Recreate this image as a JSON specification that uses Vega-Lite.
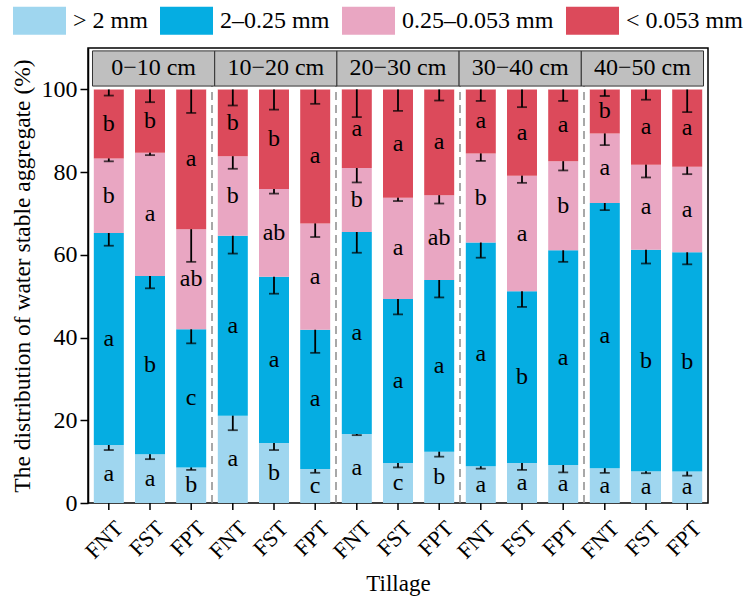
{
"$schema": "https://vega.github.io/schema/vega-lite/v6.json",
"autosize": {"type": "none"},
"padding": {"left": 88, "top": 48, "right": 38, "bottom": 105},
"width": 620,
"height": 455,
"data": {"values": [
{"depth":"0−10 cm","tillage":"FNT","size":"> 2 mm","value":14.0,"sd":1.2,"letter":"a"},
{"depth":"0−10 cm","tillage":"FNT","size":"2–0.25 mm","value":51.3,"sd":3.1,"letter":"a"},
{"depth":"0−10 cm","tillage":"FNT","size":"0.25–0.053 mm","value":18.0,"sd":0.7,"letter":"b"},
{"depth":"0−10 cm","tillage":"FNT","size":"< 0.053 mm","value":16.7,"sd":1.5,"letter":"b"},
{"depth":"0−10 cm","tillage":"FST","size":"> 2 mm","value":11.8,"sd":1.2,"letter":"a"},
{"depth":"0−10 cm","tillage":"FST","size":"2–0.25 mm","value":43.1,"sd":3.0,"letter":"b"},
{"depth":"0−10 cm","tillage":"FST","size":"0.25–0.053 mm","value":29.8,"sd":0.6,"letter":"a"},
{"depth":"0−10 cm","tillage":"FST","size":"< 0.053 mm","value":15.3,"sd":3.1,"letter":"b"},
{"depth":"0−10 cm","tillage":"FPT","size":"> 2 mm","value":8.6,"sd":0.6,"letter":"b"},
{"depth":"0−10 cm","tillage":"FPT","size":"2–0.25 mm","value":33.4,"sd":3.4,"letter":"c"},
{"depth":"0−10 cm","tillage":"FPT","size":"0.25–0.053 mm","value":24.2,"sd":7.9,"letter":"ab"},
{"depth":"0−10 cm","tillage":"FPT","size":"< 0.053 mm","value":33.8,"sd":5.7,"letter":"a"},
{"depth":"10−20 cm","tillage":"FNT","size":"> 2 mm","value":21.1,"sd":3.5,"letter":"a"},
{"depth":"10−20 cm","tillage":"FNT","size":"2–0.25 mm","value":43.5,"sd":4.3,"letter":"a"},
{"depth":"10−20 cm","tillage":"FNT","size":"0.25–0.053 mm","value":19.2,"sd":3.0,"letter":"b"},
{"depth":"10−20 cm","tillage":"FNT","size":"< 0.053 mm","value":16.2,"sd":3.9,"letter":"b"},
{"depth":"10−20 cm","tillage":"FST","size":"> 2 mm","value":14.5,"sd":1.7,"letter":"b"},
{"depth":"10−20 cm","tillage":"FST","size":"2–0.25 mm","value":40.2,"sd":4.1,"letter":"a"},
{"depth":"10−20 cm","tillage":"FST","size":"0.25–0.053 mm","value":21.2,"sd":1.1,"letter":"ab"},
{"depth":"10−20 cm","tillage":"FST","size":"< 0.053 mm","value":24.1,"sd":4.9,"letter":"b"},
{"depth":"10−20 cm","tillage":"FPT","size":"> 2 mm","value":8.2,"sd":0.9,"letter":"c"},
{"depth":"10−20 cm","tillage":"FPT","size":"2–0.25 mm","value":33.7,"sd":5.6,"letter":"a"},
{"depth":"10−20 cm","tillage":"FPT","size":"0.25–0.053 mm","value":25.7,"sd":3.3,"letter":"a"},
{"depth":"10−20 cm","tillage":"FPT","size":"< 0.053 mm","value":32.4,"sd":3.5,"letter":"a"},
{"depth":"20−30 cm","tillage":"FNT","size":"> 2 mm","value":16.7,"sd":0.3,"letter":"a"},
{"depth":"20−30 cm","tillage":"FNT","size":"2–0.25 mm","value":48.8,"sd":5.0,"letter":"a"},
{"depth":"20−30 cm","tillage":"FNT","size":"0.25–0.053 mm","value":15.5,"sd":3.5,"letter":"b"},
{"depth":"20−30 cm","tillage":"FNT","size":"< 0.053 mm","value":19.0,"sd":6.7,"letter":"a"},
{"depth":"20−30 cm","tillage":"FST","size":"> 2 mm","value":9.7,"sd":1.1,"letter":"c"},
{"depth":"20−30 cm","tillage":"FST","size":"2–0.25 mm","value":39.6,"sd":3.7,"letter":"a"},
{"depth":"20−30 cm","tillage":"FST","size":"0.25–0.053 mm","value":24.5,"sd":0.8,"letter":"a"},
{"depth":"20−30 cm","tillage":"FST","size":"< 0.053 mm","value":26.2,"sd":5.2,"letter":"a"},
{"depth":"20−30 cm","tillage":"FPT","size":"> 2 mm","value":12.4,"sd":1.2,"letter":"b"},
{"depth":"20−30 cm","tillage":"FPT","size":"2–0.25 mm","value":41.5,"sd":4.2,"letter":"a"},
{"depth":"20−30 cm","tillage":"FPT","size":"0.25–0.053 mm","value":20.5,"sd":2.0,"letter":"ab"},
{"depth":"20−30 cm","tillage":"FPT","size":"< 0.053 mm","value":25.6,"sd":2.7,"letter":"a"},
{"depth":"30−40 cm","tillage":"FNT","size":"> 2 mm","value":8.9,"sd":0.6,"letter":"a"},
{"depth":"30−40 cm","tillage":"FNT","size":"2–0.25 mm","value":54.1,"sd":3.7,"letter":"a"},
{"depth":"30−40 cm","tillage":"FNT","size":"0.25–0.053 mm","value":21.5,"sd":1.8,"letter":"b"},
{"depth":"30−40 cm","tillage":"FNT","size":"< 0.053 mm","value":15.5,"sd":2.8,"letter":"a"},
{"depth":"30−40 cm","tillage":"FST","size":"> 2 mm","value":9.7,"sd":1.7,"letter":"a"},
{"depth":"30−40 cm","tillage":"FST","size":"2–0.25 mm","value":41.5,"sd":3.8,"letter":"b"},
{"depth":"30−40 cm","tillage":"FST","size":"0.25–0.053 mm","value":27.9,"sd":1.7,"letter":"a"},
{"depth":"30−40 cm","tillage":"FST","size":"< 0.053 mm","value":20.9,"sd":4.3,"letter":"a"},
{"depth":"30−40 cm","tillage":"FPT","size":"> 2 mm","value":9.2,"sd":1.8,"letter":"a"},
{"depth":"30−40 cm","tillage":"FPT","size":"2–0.25 mm","value":51.9,"sd":2.8,"letter":"a"},
{"depth":"30−40 cm","tillage":"FPT","size":"0.25–0.053 mm","value":21.5,"sd":2.2,"letter":"b"},
{"depth":"30−40 cm","tillage":"FPT","size":"< 0.053 mm","value":17.4,"sd":2.8,"letter":"a"},
{"depth":"40−50 cm","tillage":"FNT","size":"> 2 mm","value":8.4,"sd":1.1,"letter":"a"},
{"depth":"40−50 cm","tillage":"FNT","size":"2–0.25 mm","value":64.1,"sd":1.7,"letter":"a"},
{"depth":"40−50 cm","tillage":"FNT","size":"0.25–0.053 mm","value":16.8,"sd":2.8,"letter":"a"},
{"depth":"40−50 cm","tillage":"FNT","size":"< 0.053 mm","value":10.7,"sd":1.6,"letter":"b"},
{"depth":"40−50 cm","tillage":"FST","size":"> 2 mm","value":7.7,"sd":0.5,"letter":"a"},
{"depth":"40−50 cm","tillage":"FST","size":"2–0.25 mm","value":53.5,"sd":3.3,"letter":"b"},
{"depth":"40−50 cm","tillage":"FST","size":"0.25–0.053 mm","value":20.6,"sd":3.1,"letter":"a"},
{"depth":"40−50 cm","tillage":"FST","size":"< 0.053 mm","value":18.2,"sd":2.5,"letter":"a"},
{"depth":"40−50 cm","tillage":"FPT","size":"> 2 mm","value":7.6,"sd":1.0,"letter":"a"},
{"depth":"40−50 cm","tillage":"FPT","size":"2–0.25 mm","value":53.0,"sd":2.9,"letter":"b"},
{"depth":"40−50 cm","tillage":"FPT","size":"0.25–0.053 mm","value":20.7,"sd":1.8,"letter":"a"},
{"depth":"40−50 cm","tillage":"FPT","size":"< 0.053 mm","value":18.7,"sd":5.5,"letter":"a"}
]},
"layer": [
{
"transform": [{"stack": "value", "groupby": ["depth", "tillage"], "as": ["v0", "v1"]}],
"layer": [
{
"transform": [{"filter": {"field": "size", "equal": "> 2 mm"}}],
"mark": {"type": "bar"},
"encoding": {
"x": {"field": "depth", "type": "nominal", "sort": ["0−10 cm","10−20 cm","20−30 cm","30−40 cm","40−50 cm"], "scale": {"type": "band", "paddingInner": 0, "paddingOuter": 0}, "axis": {"labels": false, "ticks": false, "domain": false, "grid": false, "title": "Tillage", "titleFontSize": 23, "titlePadding": 69, "titleFont": "Liberation Serif", "titleFontWeight": "normal", "titleColor": "black"}},
"xOffset": {"field": "tillage", "type": "nominal", "sort": ["FNT","FST","FPT"], "scale": {"type": "band", "paddingInner": 0.272, "paddingOuter": 0.141}},
"y": {"field": "v0", "type": "quantitative", "title": "The distribution of water stable aggregate (%)", "scale": {"domain": [0, 110], "nice": false, "zero": true}, "axis": {"values": [0,20,40,60,80,100], "title": "The distribution of water stable aggregate (%)", "grid": false, "tickSize": 8, "tickWidth": 1.5, "tickColor": "black", "domainColor": "black", "domainWidth": 1.5, "labelFontSize": 24, "labelPadding": 3, "labelFont": "Liberation Serif", "labelColor": "black", "titleFontSize": 23.5, "titlePadding": 7, "titleFont": "Liberation Serif", "titleFontWeight": "normal", "titleColor": "black"}},
"y2": {"field": "v1"},
"color": {"field": "size", "type": "nominal", "scale": {"domain": ["> 2 mm","2–0.25 mm","0.25–0.053 mm","< 0.053 mm"], "range": ["#9fd6ef","#05ade2","#e9a6c2","#dc4a5b"]}, "legend": {"orient": "none", "legendX": -75, "legendY": -54, "direction": "horizontal", "title": null, "symbolType": "M-1,-0.53L1,-0.53L1,0.53L-1,0.53Z", "symbolSize": 2809, "symbolStrokeWidth": 0, "symbolOpacity": 1, "labelFontSize": 24, "labelFont": "Liberation Serif", "labelColor": "black", "labelOffset": 7, "columnPadding": 12, "padding": 0, "labelLimit": 300}}
}
},
{
"transform": [{"filter": {"field": "size", "equal": "> 2 mm"}}],
"mark": {"type": "errorbar", "ticks": {"size": 10, "thickness": 1.8, "color": "black"}, "thickness": 1.8, "color": "black"},
"encoding": {
"x": {"field": "depth", "type": "nominal", "sort": ["0−10 cm","10−20 cm","20−30 cm","30−40 cm","40−50 cm"], "scale": {"type": "band", "paddingInner": 0, "paddingOuter": 0}},
"xOffset": {"field": "tillage", "type": "nominal", "sort": ["FNT","FST","FPT"], "scale": {"type": "band", "paddingInner": 0.272, "paddingOuter": 0.141}},
"y": {"field": "v1", "type": "quantitative", "title": "The distribution of water stable aggregate (%)"},
"yError": {"field": "sd"}
}
},
{
"transform": [{"filter": {"field": "size", "equal": "2–0.25 mm"}}],
"mark": {"type": "bar"},
"encoding": {
"x": {"field": "depth", "type": "nominal", "sort": ["0−10 cm","10−20 cm","20−30 cm","30−40 cm","40−50 cm"], "scale": {"type": "band", "paddingInner": 0, "paddingOuter": 0}},
"xOffset": {"field": "tillage", "type": "nominal", "sort": ["FNT","FST","FPT"], "scale": {"type": "band", "paddingInner": 0.272, "paddingOuter": 0.141}},
"y": {"field": "v0", "type": "quantitative", "title": "The distribution of water stable aggregate (%)"},
"y2": {"field": "v1"},
"color": {"field": "size", "type": "nominal", "scale": {"domain": ["> 2 mm","2–0.25 mm","0.25–0.053 mm","< 0.053 mm"], "range": ["#9fd6ef","#05ade2","#e9a6c2","#dc4a5b"]}}
}
},
{
"transform": [{"filter": {"field": "size", "equal": "2–0.25 mm"}}],
"mark": {"type": "errorbar", "ticks": {"size": 10, "thickness": 1.8, "color": "black"}, "thickness": 1.8, "color": "black"},
"encoding": {
"x": {"field": "depth", "type": "nominal", "sort": ["0−10 cm","10−20 cm","20−30 cm","30−40 cm","40−50 cm"], "scale": {"type": "band", "paddingInner": 0, "paddingOuter": 0}},
"xOffset": {"field": "tillage", "type": "nominal", "sort": ["FNT","FST","FPT"], "scale": {"type": "band", "paddingInner": 0.272, "paddingOuter": 0.141}},
"y": {"field": "v1", "type": "quantitative", "title": "The distribution of water stable aggregate (%)"},
"yError": {"field": "sd"}
}
},
{
"transform": [{"filter": {"field": "size", "equal": "0.25–0.053 mm"}}],
"mark": {"type": "bar"},
"encoding": {
"x": {"field": "depth", "type": "nominal", "sort": ["0−10 cm","10−20 cm","20−30 cm","30−40 cm","40−50 cm"], "scale": {"type": "band", "paddingInner": 0, "paddingOuter": 0}},
"xOffset": {"field": "tillage", "type": "nominal", "sort": ["FNT","FST","FPT"], "scale": {"type": "band", "paddingInner": 0.272, "paddingOuter": 0.141}},
"y": {"field": "v0", "type": "quantitative", "title": "The distribution of water stable aggregate (%)"},
"y2": {"field": "v1"},
"color": {"field": "size", "type": "nominal", "scale": {"domain": ["> 2 mm","2–0.25 mm","0.25–0.053 mm","< 0.053 mm"], "range": ["#9fd6ef","#05ade2","#e9a6c2","#dc4a5b"]}}
}
},
{
"transform": [{"filter": {"field": "size", "equal": "0.25–0.053 mm"}}],
"mark": {"type": "errorbar", "ticks": {"size": 10, "thickness": 1.8, "color": "black"}, "thickness": 1.8, "color": "black"},
"encoding": {
"x": {"field": "depth", "type": "nominal", "sort": ["0−10 cm","10−20 cm","20−30 cm","30−40 cm","40−50 cm"], "scale": {"type": "band", "paddingInner": 0, "paddingOuter": 0}},
"xOffset": {"field": "tillage", "type": "nominal", "sort": ["FNT","FST","FPT"], "scale": {"type": "band", "paddingInner": 0.272, "paddingOuter": 0.141}},
"y": {"field": "v1", "type": "quantitative", "title": "The distribution of water stable aggregate (%)"},
"yError": {"field": "sd"}
}
},
{
"transform": [{"filter": {"field": "size", "equal": "< 0.053 mm"}}],
"mark": {"type": "bar"},
"encoding": {
"x": {"field": "depth", "type": "nominal", "sort": ["0−10 cm","10−20 cm","20−30 cm","30−40 cm","40−50 cm"], "scale": {"type": "band", "paddingInner": 0, "paddingOuter": 0}},
"xOffset": {"field": "tillage", "type": "nominal", "sort": ["FNT","FST","FPT"], "scale": {"type": "band", "paddingInner": 0.272, "paddingOuter": 0.141}},
"y": {"field": "v0", "type": "quantitative", "title": "The distribution of water stable aggregate (%)"},
"y2": {"field": "v1"},
"color": {"field": "size", "type": "nominal", "scale": {"domain": ["> 2 mm","2–0.25 mm","0.25–0.053 mm","< 0.053 mm"], "range": ["#9fd6ef","#05ade2","#e9a6c2","#dc4a5b"]}}
}
},
{
"transform": [{"filter": {"field": "size", "equal": "< 0.053 mm"}}],
"mark": {"type": "errorbar", "ticks": {"size": 10, "thickness": 1.8, "color": "black"}, "thickness": 1.8, "color": "black"},
"encoding": {
"x": {"field": "depth", "type": "nominal", "sort": ["0−10 cm","10−20 cm","20−30 cm","30−40 cm","40−50 cm"], "scale": {"type": "band", "paddingInner": 0, "paddingOuter": 0}},
"xOffset": {"field": "tillage", "type": "nominal", "sort": ["FNT","FST","FPT"], "scale": {"type": "band", "paddingInner": 0.272, "paddingOuter": 0.141}},
"y": {"field": "v1", "type": "quantitative", "title": "The distribution of water stable aggregate (%)"},
"yError": {"field": "sd"}
}
},
{
"transform": [{"filter": {"field": "size", "equal": "> 2 mm"}}],
"mark": {"type": "bar", "color": "white"},
"encoding": {
"x": {"field": "depth", "type": "nominal", "sort": ["0−10 cm","10−20 cm","20−30 cm","30−40 cm","40−50 cm"], "scale": {"type": "band", "paddingInner": 0, "paddingOuter": 0}},
"xOffset": {"field": "tillage", "type": "nominal", "sort": ["FNT","FST","FPT"], "scale": {"type": "band", "paddingInner": 0.272, "paddingOuter": 0.141}},
"y": {"datum": 100},
"y2": {"datum": 100.85}
}
},
{
"transform": [{"filter": {"and": [{"field": "size", "equal": "> 2 mm"}, {"field": "tillage", "equal": "FNT"}, {"not": {"field": "depth", "equal": "0−10 cm"}}]}}],
"mark": {"type": "rule", "color": "#8c8c8c", "strokeWidth": 1.5, "strokeDash": [8, 5]},
"encoding": {
"x": {"field": "depth", "type": "nominal", "sort": ["0−10 cm","10−20 cm","20−30 cm","30−40 cm","40−50 cm"], "scale": {"type": "band", "paddingInner": 0, "paddingOuter": 0}, "bandPosition": 0},
"y": {"datum": 0},
"y2": {"datum": 100.8}
}
},
{
"transform": [{"filter": {"field": "size", "equal": "> 2 mm"}}],
"mark": {"type": "rule", "color": "black", "strokeWidth": 1.5},
"encoding": {
"x": {"field": "depth", "type": "nominal", "sort": ["0−10 cm","10−20 cm","20−30 cm","30−40 cm","40−50 cm"], "scale": {"type": "band", "paddingInner": 0, "paddingOuter": 0}},
"xOffset": {"field": "tillage", "type": "nominal", "sort": ["FNT","FST","FPT"], "scale": {"type": "band", "paddingInner": 0.272, "paddingOuter": 0.141}},
"y": {"datum": 0},
"y2": {"datum": -1.7}
}
},
{
"transform": [{"filter": {"field": "size", "equal": "> 2 mm"}}],
"mark": {"type": "text", "angle": 315, "align": "right", "baseline": "middle", "fontSize": 22.5, "font": "Liberation Serif", "color": "black", "dx": -8, "dy": 23},
"encoding": {
"x": {"field": "depth", "type": "nominal", "sort": ["0−10 cm","10−20 cm","20−30 cm","30−40 cm","40−50 cm"], "scale": {"type": "band", "paddingInner": 0, "paddingOuter": 0}},
"xOffset": {"field": "tillage", "type": "nominal", "sort": ["FNT","FST","FPT"], "scale": {"type": "band", "paddingInner": 0.272, "paddingOuter": 0.141}},
"y": {"datum": 0},
"text": {"field": "tillage"}
}
},
{
"transform": [
{"fold": ["v0", "v1"], "as": ["k", "pos"]},
{"aggregate": [{"op": "mean", "field": "pos", "as": "mid"}], "groupby": ["depth", "tillage", "size", "letter"]}
],
"mark": {"type": "text", "fontSize": 24, "font": "Liberation Serif", "baseline": "middle", "align": "center", "color": "black"},
"encoding": {
"x": {"field": "depth", "type": "nominal", "sort": ["0−10 cm","10−20 cm","20−30 cm","30−40 cm","40−50 cm"], "scale": {"type": "band", "paddingInner": 0, "paddingOuter": 0}},
"xOffset": {"field": "tillage", "type": "nominal", "sort": ["FNT","FST","FPT"], "scale": {"type": "band", "paddingInner": 0.272, "paddingOuter": 0.141}},
"y": {"field": "mid", "type": "quantitative", "title": "The distribution of water stable aggregate (%)"},
"text": {"field": "letter"}
}
}
]
},
{
"transform": [{"aggregate": [{"op": "count", "as": "n"}], "groupby": ["depth"]}],
"layer": [
{
"mark": {"type": "bar", "fill": "#bfbfbf", "stroke": "#333333", "strokeWidth": 1},
"encoding": {
"x": {"field": "depth", "type": "nominal", "sort": ["0−10 cm","10−20 cm","20−30 cm","30−40 cm","40−50 cm"], "scale": {"type": "band", "paddingInner": 0, "paddingOuter": 0.0368}, "axis": null},
"y": {"datum": 100.8},
"y2": {"datum": 109.3}
}
},
{
"mark": {"type": "text", "fontSize": 24, "font": "Liberation Serif", "baseline": "middle", "align": "center", "color": "black"},
"encoding": {
"x": {"field": "depth", "type": "nominal", "sort": ["0−10 cm","10−20 cm","20−30 cm","30−40 cm","40−50 cm"], "scale": {"type": "band", "paddingInner": 0, "paddingOuter": 0.0368}, "axis": null},
"y": {"datum": 105.05},
"text": {"field": "depth"}
}
}
]
}
],
"resolve": {"scale": {"x": "independent"}, "axis": {"x": "independent"}},
"config": {
"view": {"stroke": "black", "strokeWidth": 1.5},
"axis": {"labelColor": "black", "titleColor": "black", "titleFontWeight": "normal", "labelFont": "Liberation Serif", "titleFont": "Liberation Serif"},
"text": {"font": "Liberation Serif"}
}
}
